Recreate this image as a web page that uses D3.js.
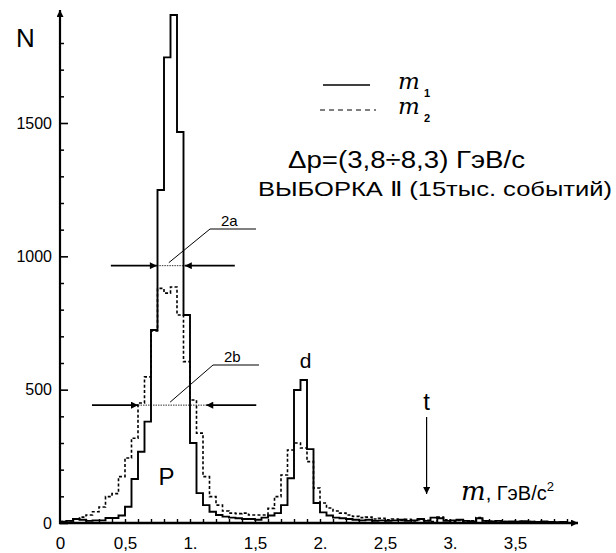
<!DOCTYPE html>
<html><head><meta charset="utf-8">
<script src="https://cdn.jsdelivr.net/npm/d3@7"></script>
<style>body{margin:0;background:#fff}svg{display:block}</style>
</head><body>
<svg id="c" width="616" height="553"></svg>
<script>
// ---- data ----
const binWidth = 0.05;
const m1Counts = [5, 8, 15, 12, 8, 10, 10, 19, 19, 28,
 61, 165, 267, 380, 724, 1249, 1746, 1905, 1466, 780,
 300, 112, 67, 42, 30, 24, 20, 18, 15, 15,
 12, 20, 28, 37, 67, 168, 499, 536, 277, 75,
 40, 28, 20, 18, 15, 12, 10, 12, 8, 10,
 8, 10, 12, 8, 10, 15, 8, 20, 18, 8,
 10, 12, 8, 6, 18, 8, 6, 8, 5, 6,
 5, 7, 5, 4, 6, 4, 3, 4];
const m2Counts = [5, 8, 15, 22, 30, 42, 60, 99, 110, 174,
 244, 318, 450, 548, 720, 880, 862, 885, 780, 605,
 461, 337, 174, 99, 67, 45, 37, 35, 37, 30,
 30, 30, 55, 99, 180, 274, 300, 281, 230, 131,
 75, 56, 45, 37, 30, 25, 20, 22, 15, 18,
 12, 15, 10, 14, 8, 12, 10, 5, 22, 12,
 6, 10, 5, 8, 20, 5, 6, 8, 5, 4,
 6, 4, 5, 3, 4, 3, 3, 2];
const xTickValues = [0, 0.5, 1, 1.5, 2, 2.5, 3, 3.5];
const xTickLabels = ["0", "0,5", "1.", "1,5", "2.", "2,5", "3.", "3,5"];
const yTickValues = [0, 500, 1000, 1500];
const yTickLabels = ["0", "500", "1000", "1500"];
// width markers: [level, left m, right m]
const width2a = [965, 0.745, 0.96];
const width2b = [442, 0.60, 1.125];

// ---- scales ----
const svg = d3.select("#c");
const x = d3.scaleLinear().domain([0, 4]).range([60, 580]);
const y = d3.scaleLinear().domain([0, 1500]).range([523, 123]);
const F = "'Liberation Sans', Arial, sans-serif";

const defs = svg.append("defs");
defs.append("marker").attr("id","ah").attr("viewBox","0 0 10 10").attr("refX",10).attr("refY",5)
  .attr("markerWidth",10).attr("markerHeight",7).attr("markerUnits","userSpaceOnUse").attr("orient","auto")
  .append("path").attr("d","M0,0L10,5L0,10Z").attr("fill","#000");
defs.append("marker").attr("id","ah2").attr("viewBox","0 0 10 10").attr("refX",10).attr("refY",5)
  .attr("markerWidth",12).attr("markerHeight",7).attr("markerUnits","userSpaceOnUse").attr("orient","auto")
  .append("path").attr("d","M0,0L10,5L0,10Z").attr("fill","#000");

// ---- histograms ----
function pts(arr){
  const p = arr.map((v,i)=>[i*binWidth, v]);
  p.push([arr.length*binWidth, arr[arr.length-1]]);
  return p;
}
const line = d3.line().x(d=>x(d[0])).y(d=>y(d[1])).curve(d3.curveStepAfter);
svg.append("path").attr("d", line(pts(m2Counts))).attr("fill","none")
  .attr("stroke","#000").attr("stroke-width",1.6).attr("stroke-dasharray","3,2.2");
svg.append("path").attr("d", line(pts(m1Counts))).attr("fill","none")
  .attr("stroke","#000").attr("stroke-width",1.9);

// ---- axes ----
const yMinor = d3.range(100, 1900, 100).filter(v=>v%500!==0);
svg.append("g").attr("transform","translate(60,0)")
  .call(d3.axisLeft(y).tickValues(yMinor).tickSize(-4).tickFormat(""))
  .call(g=>g.select(".domain").remove())
  .call(g=>g.selectAll("line").attr("stroke-width",1.5));
svg.append("g").attr("transform","translate(60,0)")
  .call(d3.axisLeft(y).tickValues(yTickValues).tickSize(-8).tickPadding(8)
    .tickFormat((d,i)=>yTickLabels[i]))
  .call(g=>g.select(".domain").remove())
  .call(g=>g.selectAll("line").attr("stroke-width",1.6))
  .call(g=>g.selectAll("text").attr("font-family",F).attr("font-size",16).attr("fill","#000"));
svg.append("line").attr("x1",60).attr("x2",60).attr("y1",y(0)+1).attr("y2",10)
  .attr("stroke","#000").attr("stroke-width",2.2).attr("marker-end","url(#ah2)");

svg.append("g").attr("transform","translate(0,"+y(0)+")")
  .call(d3.axisBottom(x).tickValues(d3.range(1,40).map(i=>i/10)).tickSize(-4).tickFormat(""))
  .call(g=>g.select(".domain").remove())
  .call(g=>g.selectAll("line").attr("stroke-width",1.4));
svg.append("g").attr("transform","translate(0,"+y(0)+")")
  .call(d3.axisBottom(x).tickValues(xTickValues).tickSize(0).tickPadding(14)
    .tickFormat((d,i)=>xTickLabels[i]))
  .call(g=>g.select(".domain").remove())
  .call(g=>g.selectAll("text").attr("font-family",F).attr("font-size",17).attr("fill","#000"));
svg.append("line").attr("x1",59).attr("x2",578).attr("y1",y(0)).attr("y2",y(0))
  .attr("stroke","#000").attr("stroke-width",2.6).attr("marker-end","url(#ah)");

// ---- axis titles ----
svg.append("text").attr("x",16).attr("y",47).attr("font-family",F).attr("font-size",26).text("N");
const xl = svg.append("text").attr("x",461).attr("y",500).attr("font-family",F).attr("font-size",20);
xl.append("tspan").attr("font-family","'DejaVu Serif', serif").attr("font-style","italic").attr("font-size",26).text("m");
xl.append("tspan").text(", ГэВ/с");
xl.append("tspan").attr("dy",-9).attr("font-size",13).text("2");

// ---- peak labels ----
svg.append("text").attr("x",x(0.82)).attr("y",485).attr("text-anchor","middle").attr("font-family",F).attr("font-size",24).text("P");
svg.append("text").attr("x",x(1.89)).attr("y",368).attr("text-anchor","middle").attr("font-family",F).attr("font-size",21).text("d");
svg.append("text").attr("x",x(2.82)).attr("y",410).attr("text-anchor","middle").attr("font-family",F).attr("font-size",24).text("t");
svg.append("line").attr("x1",x(2.82)).attr("x2",x(2.82)).attr("y1",417).attr("y2",494)
  .attr("stroke","#000").attr("stroke-width",1.2).attr("marker-end","url(#ah)");

// ---- width markers ----
function widthMarker(w, label, lx, ly){
  const yy = y(w[0]), xl0 = x(w[1]), xr0 = x(w[2]);
  svg.append("line").attr("x1",xl0-46).attr("x2",xl0).attr("y1",yy).attr("y2",yy)
    .attr("stroke","#000").attr("stroke-width",1.6).attr("marker-end","url(#ah)");
  svg.append("line").attr("x1",xr0+50).attr("x2",xr0).attr("y1",yy).attr("y2",yy)
    .attr("stroke","#000").attr("stroke-width",1.6).attr("marker-end","url(#ah)");
  svg.append("line").attr("x1",xl0).attr("x2",xr0).attr("y1",yy).attr("y2",yy)
    .attr("stroke","#000").attr("stroke-width",0.8).attr("stroke-dasharray","1.5,1");
  const mx = (xl0+xr0)/2 - 2;
  svg.append("line").attr("x1",mx).attr("y1",yy-3).attr("x2",lx).attr("y2",ly)
    .attr("stroke","#000").attr("stroke-width",1);
  svg.append("line").attr("x1",lx).attr("y1",ly).attr("x2",lx+46).attr("y2",ly)
    .attr("stroke","#000").attr("stroke-width",1);
  svg.append("text").attr("x",lx+11).attr("y",ly-3).attr("font-family",F).attr("font-size",15)
    .text(label);
}
widthMarker(width2a, "2a", 210, 229);
widthMarker(width2b, "2b", 213, 365);

// ---- legend ----
svg.append("line").attr("x1",323).attr("x2",370).attr("y1",85).attr("y2",85).attr("stroke","#000").attr("stroke-width",1.4);
svg.append("line").attr("x1",320).attr("x2",376).attr("y1",110).attr("y2",110).attr("stroke","#000").attr("stroke-width",1.2).attr("stroke-dasharray","5,4");
[["1",89],["2",114]].forEach(([s,by])=>{
  svg.append("text").attr("x",398).attr("y",by)
    .attr("font-family","'DejaVu Serif', serif").attr("font-style","italic").attr("font-size",23).text("m");
  svg.append("text").attr("x",424).attr("y",by+8)
    .attr("font-family",F).attr("font-size",11).attr("font-weight","bold").text(s);
});
svg.append("text").attr("x",288).attr("y",168).attr("font-family",F).attr("font-size",23)
  .attr("textLength",237).attr("lengthAdjust","spacingAndGlyphs").text("Δp=(3,8÷8,3) ГэВ/с");
svg.append("text").attr("x",258).attr("y",196).attr("font-family",F).attr("font-size",21)
  .attr("textLength",354).attr("lengthAdjust","spacingAndGlyphs").text("ВЫБОРКА Ⅱ (15тыс. событий)");
</script>
</body></html>
